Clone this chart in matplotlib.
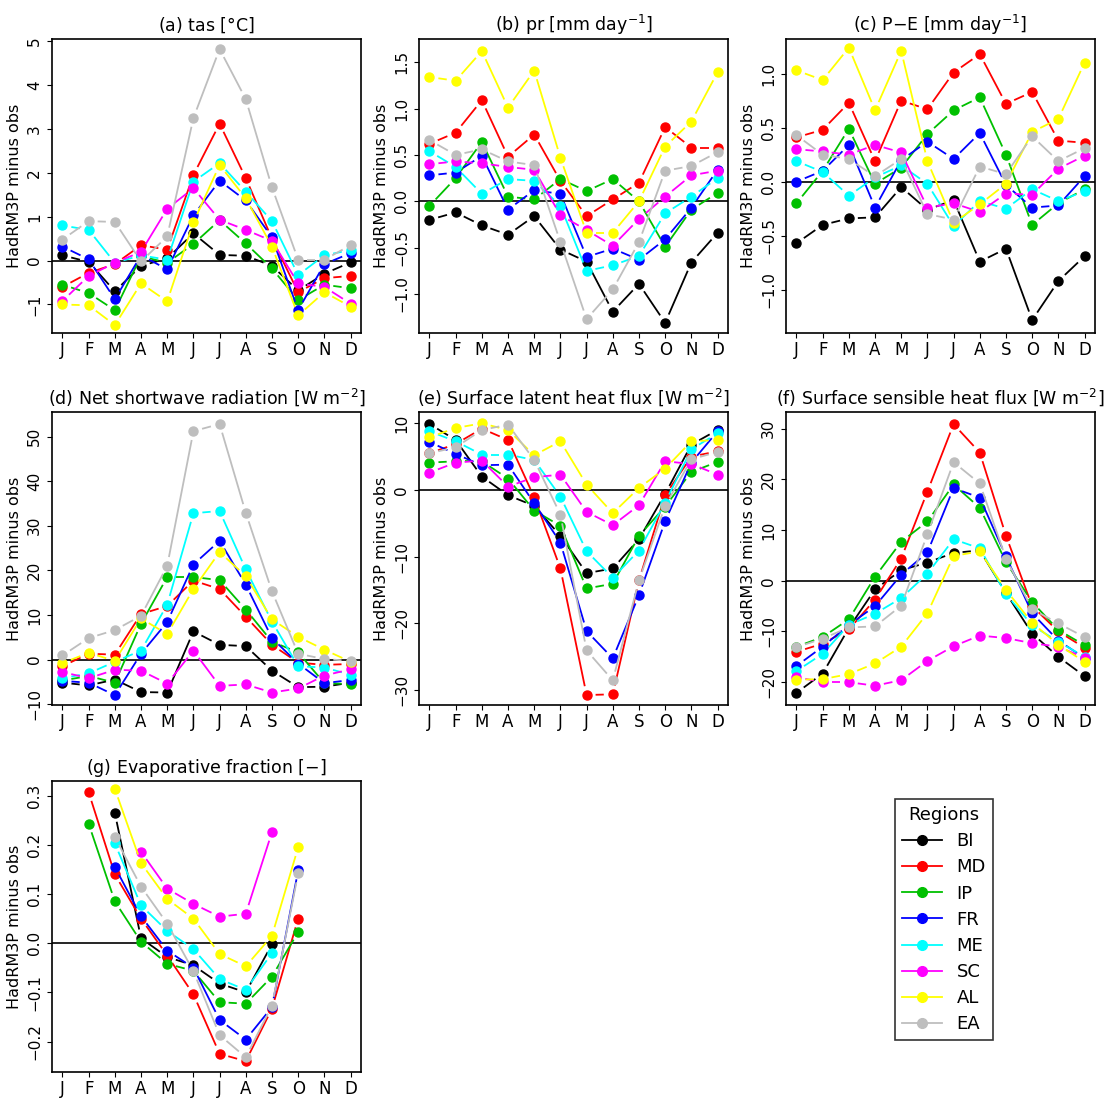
import numpy as np
import matplotlib
matplotlib.use("Agg")
import matplotlib.pyplot as plt
from matplotlib.lines import Line2D

nan = np.nan
months = ["J", "F", "M", "A", "M", "J", "J", "A", "S", "O", "N", "D"]
regions = ["BI", "MD", "IP", "FR", "ME", "SC", "AL", "EA"]
colours = ["black", "red", "#00c000", "blue", "cyan", "magenta", "yellow", "#bebebe"]

tas = [
    [0.12, -0.03, -0.7, -0.12, 0.05, 0.62, 0.13, 0.11, -0.12, -0.68, -0.3, -0.04],
    [-0.6, -0.28, -0.08, 0.35, 0.25, 1.95, 3.12, 1.88, 0.5, -0.72, -0.4, -0.35],
    [-0.55, -0.74, -1.13, 0.1, -0.05, 0.38, 0.92, 0.39, -0.18, -0.9, -0.55, -0.63],
    [0.32, 0.03, -0.88, 0.12, -0.2, 1.03, 1.82, 1.37, 0.53, -1.13, -0.08, 0.17],
    [0.8, 0.7, -0.05, 0.12, 0.02, 1.8, 2.22, 1.57, 0.9, -0.33, 0.12, 0.24],
    [-0.92, -0.35, -0.05, 0.2, 1.18, 1.65, 0.93, 0.7, 0.45, -0.52, -0.6, -0.98],
    [-1.0, -1.02, -1.47, -0.52, -0.93, 0.87, 2.18, 1.42, 0.32, -1.25, -0.72, -1.05],
    [0.48, 0.9, 0.88, -0.02, 0.55, 3.25, 4.82, 3.68, 1.67, 0.02, 0.02, 0.35],
]
pr = [
    [-0.2, -0.12, -0.26, -0.36, -0.16, -0.52, -0.65, -1.19, -0.89, -1.31, -0.66, -0.34],
    [0.62, 0.74, 1.09, 0.48, 0.72, 0.22, -0.16, 0.02, 0.2, 0.8, 0.58, 0.58],
    [-0.05, 0.25, 0.64, 0.05, 0.02, 0.24, 0.11, 0.24, 0.0, -0.49, -0.09, 0.09],
    [0.28, 0.31, 0.49, -0.09, 0.12, 0.08, -0.6, -0.51, -0.63, -0.41, -0.07, 0.34],
    [0.54, 0.37, 0.08, 0.24, 0.22, -0.05, -0.75, -0.69, -0.59, -0.13, 0.05, 0.25],
    [0.4, 0.43, 0.41, 0.37, 0.34, -0.15, -0.31, -0.48, -0.19, 0.05, 0.28, 0.33],
    [1.34, 1.3, 1.62, 1.01, 1.41, 0.47, -0.34, -0.34, 0.0, 0.59, 0.86, 1.39],
    [0.66, 0.5, 0.56, 0.43, 0.39, -0.44, -1.27, -0.95, -0.44, 0.33, 0.38, 0.53],
]
pme = [
    [-0.57, -0.4, -0.34, -0.33, -0.05, -0.26, -0.17, -0.74, -0.62, -1.28, -0.92, -0.69],
    [0.41, 0.48, 0.73, 0.19, 0.75, 0.67, 1.01, 1.18, 0.72, 0.83, 0.38, 0.36],
    [-0.2, 0.1, 0.49, -0.02, 0.13, 0.44, 0.66, 0.78, 0.25, -0.4, -0.2, -0.07],
    [0.0, 0.1, 0.34, -0.24, 0.2, 0.37, 0.21, 0.45, -0.03, -0.24, -0.22, 0.05],
    [0.19, 0.09, -0.13, 0.04, 0.15, -0.02, -0.41, -0.18, -0.25, -0.07, -0.18, -0.09],
    [0.3, 0.28, 0.25, 0.34, 0.27, -0.24, -0.2, -0.28, -0.11, -0.12, 0.12, 0.24],
    [1.03, 0.94, 1.24, 0.66, 1.21, 0.19, -0.38, -0.21, -0.02, 0.46, 0.58, 1.1],
    [0.43, 0.25, 0.21, 0.05, 0.21, -0.3, -0.35, 0.14, 0.07, 0.42, 0.19, 0.31],
]
sw = [
    [-5.2, -5.8, -4.5, -7.3, -7.4, 6.3, 3.3, 3.0, -2.5, -6.2, -6.1, -5.2],
    [-1.5, 1.3, 1.1, 10.2, 12.0, 17.7, 15.8, 9.6, 3.3, -0.7, -1.2, -1.0],
    [-4.7, -3.7, -5.2, 8.0, 18.5, 18.5, 17.8, 11.2, 4.0, 1.6, -5.3, -5.5],
    [-4.8, -5.2, -8.0, 1.3, 8.4, 21.3, 26.6, 16.8, 4.8, -0.9, -5.3, -4.6],
    [-4.2, -3.1, -0.5, 2.0, 12.3, 32.8, 33.3, 20.2, 8.5, -1.5, -1.8, -3.4],
    [-2.8, -4.2, -2.3, -2.5, -5.4, 2.0, -5.9, -5.6, -7.4, -6.5, -3.6, -2.2],
    [-0.8, 1.5, -0.3, 9.2, 5.7, 15.8, 24.1, 18.7, 9.0, 5.1, 2.2, -0.5],
    [0.9, 4.8, 6.6, 9.8, 21.0, 51.2, 52.8, 32.9, 15.3, 1.3, 0.1, -0.3],
]
lh = [
    [9.9, 7.5, 2.0, -0.8, -2.4, -6.9, -12.5, -11.8, -7.4, -0.6, 6.8, 9.0],
    [5.5, 6.9, 9.2, 7.5, -1.1, -11.8, -30.8, -30.7, -13.6, -0.8, 5.0, 5.8],
    [4.1, 4.3, 4.3, 1.7, -3.1, -5.4, -14.8, -14.1, -6.9, -2.5, 2.7, 4.2],
    [7.2, 5.4, 3.7, 3.8, -2.0, -7.9, -21.2, -25.3, -15.8, -4.7, 4.1, 8.8],
    [8.8, 7.3, 5.3, 5.3, 4.5, -1.0, -9.2, -13.2, -9.1, -1.9, 6.1, 8.5],
    [2.6, 4.1, 4.4, 0.5, 1.9, 2.3, -3.3, -5.3, -2.3, 4.3, 3.9, 2.3],
    [7.9, 9.3, 10.0, 9.0, 5.2, 7.3, 0.8, -3.5, 0.3, 3.2, 7.3, 7.5],
    [5.5, 6.4, 9.0, 9.8, 4.5, -3.7, -24.1, -28.6, -13.6, -2.4, 4.6, 5.7],
]
sh = [
    [-22.1, -18.3, -9.3, -1.7, 2.1, 3.6, 5.5, 6.0, -2.4, -10.4, -15.0, -18.8],
    [-14.0, -12.4, -9.6, -3.7, 4.4, 17.6, 30.9, 25.3, 8.9, -5.0, -10.0, -13.2],
    [-13.0, -11.1, -7.6, 0.8, 7.7, 11.7, 19.0, 14.4, 3.7, -4.2, -9.7, -12.7],
    [-16.8, -13.0, -8.7, -5.0, 1.2, 5.6, 18.3, 16.4, 4.8, -6.4, -11.8, -15.2],
    [-17.8, -14.4, -8.7, -6.5, -3.4, 1.4, 8.2, 6.4, -2.6, -8.8, -12.0, -15.0],
    [-19.0, -20.0, -20.0, -20.7, -19.6, -15.8, -12.9, -10.8, -11.3, -12.3, -13.0, -15.2],
    [-19.5, -19.4, -18.4, -16.3, -13.0, -6.4, 4.9, 5.8, -1.8, -8.3, -12.6, -16.0],
    [-13.1, -11.4, -9.2, -9.0, -4.9, 9.2, 23.4, 19.2, 4.4, -5.6, -8.4, -11.1],
]
ef = [
    [nan, nan, 0.265, 0.01, -0.028, -0.045, -0.082, -0.1, -0.002, nan, nan, nan],
    [nan, 0.307, 0.14, 0.05, -0.025, -0.104, -0.225, -0.24, -0.133, 0.05, nan, nan],
    [nan, 0.243, 0.085, 0.003, -0.042, -0.056, -0.12, -0.123, -0.068, 0.023, nan, nan],
    [nan, nan, 0.155, 0.055, -0.015, -0.05, -0.156, -0.196, -0.13, 0.148, nan, nan],
    [nan, nan, 0.203, 0.077, 0.025, -0.012, -0.073, -0.095, -0.02, nan, nan, nan],
    [nan, nan, nan, 0.186, 0.111, 0.08, 0.054, 0.06, 0.226, nan, nan, nan],
    [nan, nan, 0.314, 0.163, 0.09, 0.05, -0.022, -0.047, 0.015, 0.195, nan, nan],
    [nan, nan, 0.216, 0.115, 0.04, -0.057, -0.187, -0.232, -0.127, 0.142, nan, nan],
]

panels = [
    ("(a) tas [$\\degree$C]", tas, (-1.65, 5.05), [-1, 0, 1, 2, 3, 4, 5], None),
    ("(b) pr [mm day$^{-1}$]", pr, (-1.42, 1.75), [-1.0, -0.5, 0.0, 0.5, 1.0, 1.5], "%.1f"),
    ("(c) P$-$E [mm day$^{-1}$]", pme, (-1.4, 1.32), [-1.0, -0.5, 0.0, 0.5, 1.0], "%.1f"),
    ("(d) Net shortwave radiation [W m$^{-2}$]", sw, (-10.2, 55.5), [-10, 0, 10, 20, 30, 40, 50], None),
    ("(e) Surface latent heat flux [W m$^{-2}$]", lh, (-32.3, 11.7), [-30, -20, -10, 0, 10], None),
    ("(f) Surface sensible heat flux [W m$^{-2}$]", sh, (-24.5, 33.3), [-20, -10, 0, 10, 20, 30], None),
    ("(g) Evaporative fraction [$-$]", ef, (-0.262, 0.33), [-0.2, -0.1, 0.0, 0.1, 0.2, 0.3], "%.1f"),
]

W, H = 1107, 1100
lefts = [52, 419, 786]
rows = [(39, 333), (412, 705), (781, 1072)]
aw = 309

fig = plt.figure(figsize=(W / 100, H / 100), dpi=100)
x = np.arange(1, 13)
gap = 9.0  # pixels of gap between line and point, like R type="b"


def draw_series(ax, y, col):
    y = np.asarray(y, dtype=float)
    pts = ax.transData.transform(np.column_stack([x, np.nan_to_num(y)]))
    for i in range(11):
        if np.isnan(y[i]) or np.isnan(y[i + 1]):
            continue
        p0, p1 = pts[i], pts[i + 1]
        d = p1 - p0
        L = np.hypot(*d)
        if L <= 2 * gap:
            continue
        u = d / L
        q = ax.transData.inverted().transform([p0 + u * gap, p1 - u * gap])
        ax.plot(q[:, 0], q[:, 1], color=col, lw=1.3, solid_capstyle="butt")
    ax.plot(x, y, "o", color=col, ms=6.5, mec=col, lw=0)


for k, (title, data, ylim, yt, fmt) in enumerate(panels):
    r, c = divmod(k, 3)
    top, bot = rows[r]
    ax = fig.add_axes([lefts[c] / W, 1 - bot / H, aw / W, (bot - top) / H])
    ax.set_xlim(0.6, 12.4)
    ax.set_ylim(*ylim)
    ax.axhline(0, color="black", lw=1.2)
    for y, col in zip(data, colours):
        draw_series(ax, y, col)
    ax.set_xticks(x)
    ax.set_xticklabels(months, fontsize=12)
    ax.tick_params(axis="x", pad=2)
    ax.set_yticks(yt)
    if fmt:
        ax.set_yticklabels([(fmt % v).replace("-", "\u2212") for v in yt])
    ax.tick_params(axis="y", labelsize=11, labelrotation=90)
    for lab in ax.get_yticklabels():
        lab.set_va("center")
    ax.set_ylabel("HadRM3P minus obs", fontsize=11.5)
    ax.set_title(title, fontsize=12.5, pad=6)
    for s in ax.spines.values():
        s.set_linewidth(1.2)

handles = [Line2D([0], [0], color=col, marker="o", ms=7, lw=1.3) for col in colours]
leg = fig.legend(handles, regions, title="Regions", loc="upper left",
                 bbox_to_anchor=(886 / W, 1 - 790 / H), fontsize=13, title_fontsize=13,
                 fancybox=False, edgecolor="black", handlelength=2.2, labelspacing=0.45)
leg.get_frame().set_linewidth(1.2)

fig.savefig("out.png", dpi=100)
